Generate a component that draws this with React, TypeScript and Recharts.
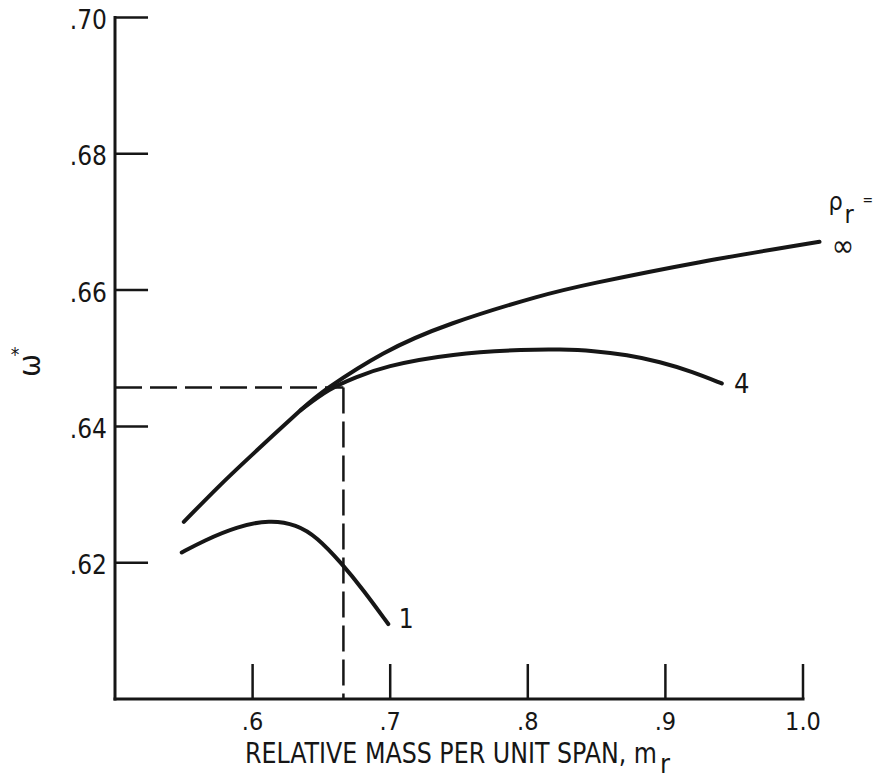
import React from 'react';
import { LineChart, Line, XAxis, YAxis, ReferenceLine } from 'recharts';

const xTicks = [0.6, 0.7, 0.8, 0.9, 1.0];
const xTickLabels = ['.6', '.7', '.8', '.9', '1.0'];
const yTicks = [0.62, 0.64, 0.66, 0.68, 0.7];
const yTickLabels = ['.62', '.64', '.66', '.68', '.70'];

// rho_r = infinity
const infX = [0.55, 0.575, 0.6, 0.635, 0.656, 0.695, 0.745, 0.805, 0.85, 0.925, 1.012];
const infY = [0.626, 0.6311, 0.6359, 0.6424, 0.6458, 0.6507, 0.6551, 0.6589, 0.6611, 0.6641, 0.6671];
// rho_r = 4
const r4X = [0.635, 0.656, 0.675, 0.695, 0.745, 0.8, 0.823, 0.848, 0.872, 0.896, 0.92, 0.941];
const r4Y = [0.6424, 0.6456, 0.6472, 0.6488, 0.6507, 0.6513, 0.6513, 0.6511, 0.6505, 0.6495, 0.648, 0.6463];
// rho_r = 1
const r1X = [0.5485, 0.5642, 0.5884, 0.6126, 0.632, 0.6466, 0.6648, 0.6805, 0.6986];
const r1Y = [0.6215, 0.6232, 0.6253, 0.6263, 0.6256, 0.6238, 0.6199, 0.616, 0.611];

const dashX = 0.666;
const dashY = 0.6457;

const xMin = 0.5;
const xMax = 1.0;
const yMin = 0.6;
const yMax = 0.7;
const xTickLen = 0.00514;
const yTickLen = 0.024;

const toPoints = (xs: number[], ys: number[]) => xs.map((x, i) => ({ x, y: ys[i] }));
const infData = toPoints(infX, infY);
const r4Data = toPoints(r4X, r4Y);
const r1Data = toPoints(r1X, r1Y);

const FONT = "'DejaVu Sans Condensed', 'Liberation Sans Narrow', 'DejaVu Sans', sans-serif";
const INK = '#161616';

const findIdx = (arr: number[], v: number) => arr.findIndex((a) => Math.abs(a - v) < 1e-9);

const XTick = (props: any) => {
  const { x, y, payload } = props;
  const i = findIdx(xTicks, payload.value);
  return (
    <text x={x} y={y} dy={31} textAnchor="middle" fontSize={25} fill={INK} fontFamily={FONT} fontStretch="condensed">
      {i >= 0 ? xTickLabels[i] : ''}
    </text>
  );
};

const YTick = (props: any) => {
  const { x, y, payload } = props;
  const i = findIdx(yTicks, payload.value);
  return (
    <text x={x} y={y} dy={11.5} textAnchor="end" fontSize={26} fill={INK} fontFamily={FONT} fontStretch="condensed">
      {i >= 0 ? yTickLabels[i] : ''}
    </text>
  );
};

const XTitle = (props: any) => {
  const vb = props.viewBox || { x: 0, y: 0 };
  return (
    <g>
      <text
        x={vb.x + 130}
        y={vb.y + 64}
        fontSize={29}
        fill={INK}
        fontFamily={FONT}
        fontStretch="condensed"
        textLength={412}
        lengthAdjust="spacingAndGlyphs"
      >
        RELATIVE MASS PER UNIT SPAN, m
      </text>
      <text x={vb.x + 545} y={vb.y + 74} fontSize={27} fill={INK} fontFamily={FONT}>
        r
      </text>
    </g>
  );
};

const YTitle = (props: any) => {
  const vb = props.viewBox || { x: 0, y: 0 };
  const cx = vb.x + 29;
  const cy = vb.y + 348;
  return (
    <g>
      <text x={cx} y={cy} textAnchor="middle" dominantBaseline="central" fontSize={30} fill={INK} fontFamily={FONT} transform={`rotate(-90 ${cx} ${cy})`}>
        ω
      </text>
      <text x={cx - 14} y={cy - 12} textAnchor="middle" dominantBaseline="central" fontSize={19} fill={INK} fontFamily={FONT}>
        *
      </text>
    </g>
  );
};

const endLabel = (n: number, render: (cx: number, cy: number) => React.ReactNode) => (props: any) => {
  const { cx, cy, index } = props;
  if (index !== n - 1) return <g key={`d${index}`} />;
  return <g key={`d${index}`}>{render(cx, cy)}</g>;
};

const textStyle = { fill: INK, fontFamily: FONT } as const;

export default function App() {
  return (
    <div style={{ position: 'absolute', left: 0, top: 0, background: '#fff' }}>
      <LineChart
        width={876}
        height={781}
        margin={{ top: 17.5, right: 38.6, bottom: 0, left: 0 }}
      >
        <XAxis
          type="number"
          dataKey="x"
          domain={[0.5, 1.025]}
          ticks={xTicks}
          axisLine={false}
          tickLine={false}
          tickSize={0}
          tickMargin={0}
          tick={<XTick />}
          height={82}
          label={<XTitle />}
        />
        <YAxis
          type="number"
          dataKey="y"
          domain={[yMin, yMax]}
          ticks={yTicks}
          axisLine={false}
          tickLine={false}
          tickSize={0}
          tickMargin={8}
          tick={<YTick />}
          width={115}
          label={<YTitle />}
        />
        {/* axis lines */}
        <ReferenceLine segment={[{ x: xMin, y: yMin }, { x: xMax, y: yMin }]} stroke={INK} strokeWidth={3} strokeLinecap="square" />
        <ReferenceLine segment={[{ x: xMin, y: yMin }, { x: xMin, y: yMax }]} stroke={INK} strokeWidth={3} strokeLinecap="square" />
        {/* tick marks */}
        {xTicks.map((t) => (
          <ReferenceLine key={`xt${t}`} segment={[{ x: t, y: yMin }, { x: t, y: yMin + xTickLen }]} stroke={INK} strokeWidth={2.5} />
        ))}
        {yTicks.map((t) => (
          <ReferenceLine key={`yt${t}`} segment={[{ x: xMin, y: t }, { x: xMin + yTickLen, y: t }]} stroke={INK} strokeWidth={2.5} />
        ))}
        {/* dashed guide lines */}
        <ReferenceLine segment={[{ x: xMin, y: dashY }, { x: dashX, y: dashY }]} stroke={INK} strokeWidth={2.5} strokeDasharray="27 8" />
        <ReferenceLine segment={[{ x: dashX, y: dashY }, { x: dashX, y: yMin }]} stroke={INK} strokeWidth={2.5} strokeDasharray="26 8" />

        <Line
          data={infData}
          dataKey="y"
          type="natural"
          stroke={INK}
          strokeWidth={4}
          strokeLinecap="round"
          isAnimationActive={false}
          activeDot={false}
          dot={endLabel(infData.length, (cx, cy) => (
            <>
              <text x={cx + 9} y={cy - 32} fontSize={25} {...textStyle}>ρ</text>
              <text x={cx + 25} y={cy - 19} fontSize={25} {...textStyle}>r</text>
              <text x={cx + 43} y={cy - 37} fontSize={14} {...textStyle}>=</text>
              <text x={cx + 23.5} y={cy + 4} fontSize={30} textAnchor="middle" dominantBaseline="central" {...textStyle}>∞</text>
            </>
          ))}
        />
        <Line
          data={r4Data}
          dataKey="y"
          type="basis"
          stroke={INK}
          strokeWidth={4}
          strokeLinecap="round"
          isAnimationActive={false}
          activeDot={false}
          dot={endLabel(r4Data.length, (cx, cy) => (
            <text x={cx + 20} y={cy + 10} fontSize={27} textAnchor="middle" {...textStyle}>4</text>
          ))}
        />
        <Line
          data={r1Data}
          dataKey="y"
          type="basis"
          stroke={INK}
          strokeWidth={4}
          strokeLinecap="round"
          isAnimationActive={false}
          activeDot={false}
          dot={endLabel(r1Data.length, (cx, cy) => (
            <text x={cx + 18} y={cy + 4} fontSize={26} textAnchor="middle" {...textStyle}>1</text>
          ))}
        />
      </LineChart>
    </div>
  );
}
